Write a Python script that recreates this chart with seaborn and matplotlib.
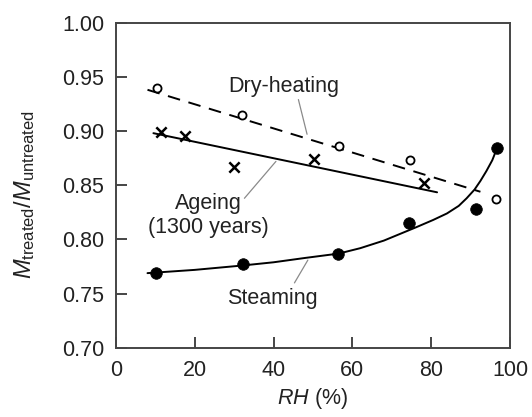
import matplotlib
matplotlib.use("Agg")
import matplotlib.pyplot as plt
import seaborn as sns

# ---- data ----
dry_rh = [10.5, 32.0, 56.5, 74.5, 96.5]
dry_ratio = [0.940, 0.915, 0.886, 0.873, 0.837]
dry_fit_rh = [8.0, 92.5]
dry_fit_ratio = [0.938, 0.844]

age_rh = [11.4, 17.6, 29.9, 50.3, 78.1]
age_ratio = [0.899, 0.895, 0.867, 0.874, 0.852]
age_fit_rh = [9.5, 81.5]
age_fit_ratio = [0.898, 0.8435]

steam_rh = [10.2, 32.3, 56.3, 74.4, 91.4, 96.6]
steam_ratio = [0.769, 0.777, 0.787, 0.815, 0.828, 0.884]
steam_fit_rh = [8.0, 20.0, 32.0, 40.0, 48.0, 56.5, 62.0, 68.0, 72.0, 76.0, 80.5, 84.0,
                87.0, 89.0, 91.0, 92.5, 94.0, 95.5, 96.7]
steam_fit_ratio = [0.769, 0.772, 0.776, 0.779, 0.783, 0.787, 0.792, 0.799, 0.805, 0.811,
                   0.818, 0.824, 0.831, 0.838, 0.846, 0.854, 0.863, 0.873, 0.884]

x_ticks = [0, 20, 40, 60, 80, 100]
y_ticks = [0.70, 0.75, 0.80, 0.85, 0.90, 0.95, 1.00]

sns.set_theme(style="ticks")
spine_c = "#454545"
txt_c = "#222222"
plt.rcParams["font.family"] = ["Liberation Sans", "DejaVu Sans"]
plt.rcParams["mathtext.fontset"] = "custom"
plt.rcParams["mathtext.rm"] = "Liberation Sans"
plt.rcParams["mathtext.it"] = "Liberation Sans:italic"
plt.rcParams["mathtext.bf"] = "Liberation Sans:bold"

fig = plt.figure(figsize=(5.32, 4.17), dpi=100)
ax = fig.add_axes([0.218, 0.1655, 0.9586 - 0.218, 0.946 - 0.1655])

# fitted lines
sns.lineplot(x=dry_fit_rh, y=dry_fit_ratio, ax=ax, color="black", lw=1.4,
             linestyle=(0, (6.5, 4.5)), sort=False)
sns.lineplot(x=age_fit_rh, y=age_fit_ratio, ax=ax, color="black", lw=1.4, sort=False)
sns.lineplot(x=steam_fit_rh, y=steam_fit_ratio, ax=ax, color="black", lw=1.4, sort=False)

# measured points
sns.scatterplot(x=dry_rh, y=dry_ratio, ax=ax, marker="o", s=34,
                facecolor="white", edgecolor="black", linewidth=1.3, zorder=5)
sns.scatterplot(x=age_rh, y=age_ratio, ax=ax, marker="x", s=55,
                color="black", linewidth=1.8, zorder=5)
sns.scatterplot(x=steam_rh, y=steam_ratio, ax=ax, marker="o", s=70,
                color="black", edgecolor="black", linewidth=0.5, zorder=5)

ax.set_xlim(0, 100)
ax.set_ylim(0.70, 1.00)
ax.set_xticks(x_ticks)
ax.set_yticks(y_ticks)
ax.set_xticklabels([str(t) for t in x_ticks])
ax.set_yticklabels([f"{t:.2f}" for t in y_ticks])
ax.tick_params(axis="both", which="major", direction="in", length=8, width=1.4,
               color=spine_c, labelsize=15.5, labelcolor=txt_c, pad=8.5,
               bottom=True, left=True, top=False, right=False)
for sp in ax.spines.values():
    sp.set_color(spine_c)
    sp.set_linewidth(1.4)

ax.set_xlabel(r"$RH$ (%)", fontsize=15.5, color=txt_c, labelpad=4)
ax.set_ylabel(r"$M_{\mathrm{treated}}/M_{\mathrm{untreated}}$", fontsize=17, color=txt_c)
ax.yaxis.set_label_coords(-0.2, 0.47)

# annotations with leader lines
lead_c = "#8a8a8a"
ax.text(42.6, 0.9408, "Dry-heating", fontsize=15.5, color=txt_c, ha="center", va="center")
ax.plot([46.3, 48.5], [0.929, 0.897], color=lead_c, lw=0.9)

ax.text(23.5, 0.822, "Ageing\n(1300 years)", fontsize=15.5, color=txt_c,
        ha="center", va="center", linespacing=1.15)
ax.plot([32.6, 40.6], [0.838, 0.872], color=lead_c, lw=0.9)

ax.text(39.6, 0.746, "Steaming", fontsize=15.5, color=txt_c, ha="center", va="center")
ax.plot([45.3, 48.7], [0.760, 0.781], color=lead_c, lw=0.9)

fig.savefig("out.png", dpi=100)
